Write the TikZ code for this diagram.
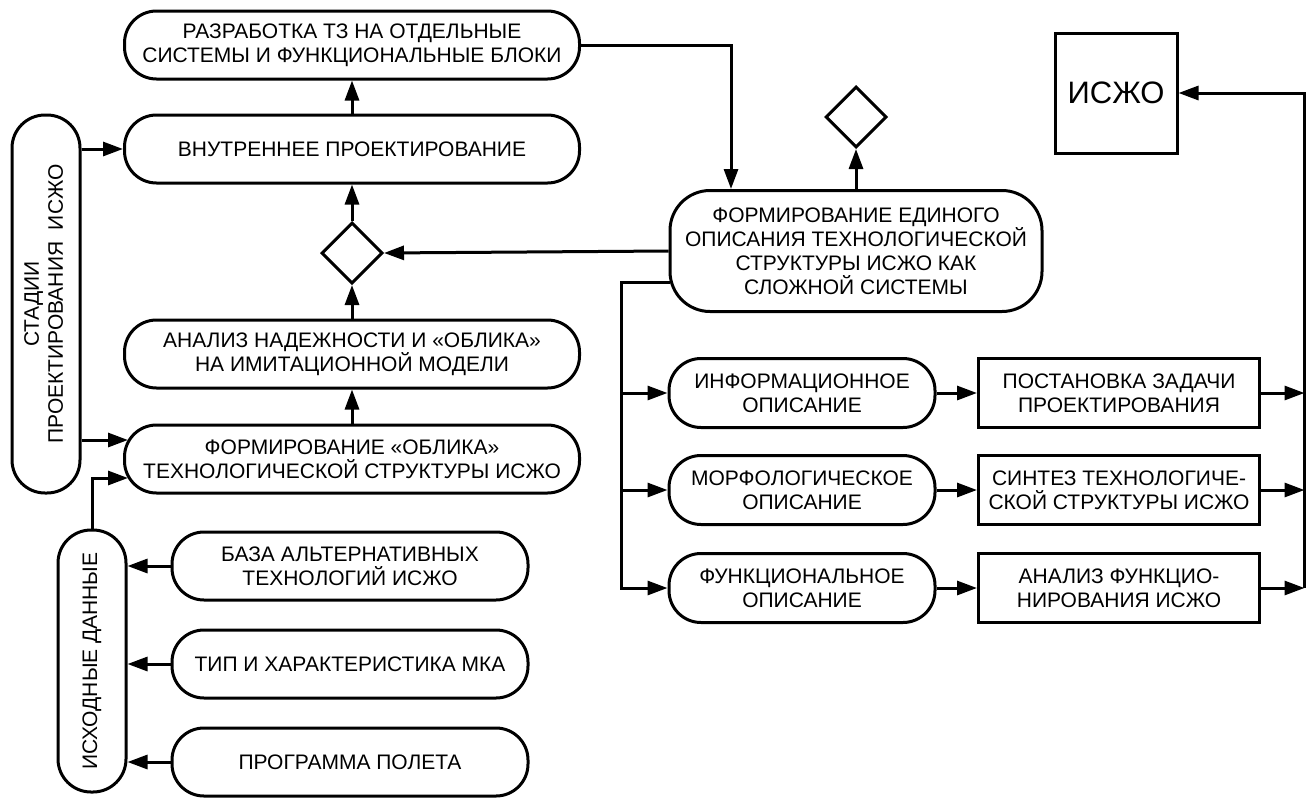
\documentclass[tikz,border=0pt]{standalone}
\usepackage{fontspec}
\setmainfont{Liberation Sans}
\usepackage{graphicx}
\usetikzlibrary{arrows.meta,shapes.geometric,calc}
\newcommand{\fs}{\fontsize{21pt}{24pt}\selectfont}
\tikzset{
  base/.style={draw, line width=3pt, align=center, font=\fs, inner sep=0pt},
  pill/.style={base, rounded corners=32pt, minimum height=68pt},
  vpill/.style={base, rounded corners=33pt, minimum width=68pt},
  rect/.style={base, minimum height=69pt, minimum width=281pt},
  dia/.style={draw, line width=3pt, diamond, aspect=1, inner sep=0pt, minimum width=61pt, minimum height=61pt},
  arr/.style={line width=3pt, -{Triangle[length=20pt,width=14pt]}}
}
\begin{document}
\begin{tikzpicture}[x=1pt,y=-1pt]
\useasboundingbox (0,0) rectangle (1314,798);
% left column
\node[pill, minimum width=455pt] (raz) at (352,45) {РАЗРАБОТКА ТЗ НА ОТДЕЛЬНЫЕ\\СИСТЕМЫ И ФУНКЦИОНАЛЬНЫЕ БЛОКИ};
\node[pill, minimum width=455pt] (vn) at (352,149) {ВНУТРЕННЕЕ ПРОЕКТИРОВАНИЕ};
\node[dia] (dl) at (352,253) {};
\node[pill, minimum width=455pt] (an) at (352,354) {АНАЛИЗ НАДЕЖНОСТИ И «ОБЛИКА»\\НА ИМИТАЦИОННОЙ МОДЕЛИ};
\node[pill, minimum width=455pt] (obl) at (352,459) {ФОРМИРОВАНИЕ «ОБЛИКА»\\ТЕХНОЛОГИЧЕСКОЙ СТРУКТУРЫ ИСЖО};
\node[vpill, minimum height=378pt] (stad) at (46,304) {\rotatebox{90}{\begin{tabular}{@{}c@{}}СТАДИИ\\ПРОЕКТИРОВАНИЯ\ \ ИСЖО\end{tabular}}};
\node[vpill, minimum height=262pt] (isx) at (92,661) {\rotatebox{90}{ИСХОДНЫЕ ДАННЫЕ}};
\node[pill, minimum width=356pt] (baz) at (350,566) {БАЗА АЛЬТЕРНАТИВНЫХ\\ТЕХНОЛОГИЙ ИСЖО};
\node[pill, minimum width=356pt] (tip) at (350,664) {ТИП И ХАРАКТЕРИСТИКА МКА};
\node[pill, minimum width=356pt] (prog) at (350,762) {ПРОГРАММА ПОЛЕТА};
% right part
\node[base, rounded corners=40pt, minimum width=372pt, minimum height=121pt] (ed) at (856,251) {ФОРМИРОВАНИЕ ЕДИНОГО\\ОПИСАНИЯ ТЕХНОЛОГИЧЕСКОЙ\\СТРУКТУРЫ ИСЖО КАК\\СЛОЖНОЙ СИСТЕМЫ};
\node[dia] (dr) at (856,117) {};
\node[base, minimum width=122pt, minimum height=120pt, font=\fontsize{31pt}{34pt}\selectfont] (isj) at (1116,93) {ИСЖО};
\node[pill, minimum width=266pt, minimum height=69pt] (inf) at (802,393) {ИНФОРМАЦИОННОЕ\\ОПИСАНИЕ};
\node[pill, minimum width=266pt, minimum height=69pt] (mor) at (802,490) {МОРФОЛОГИЧЕСКОЕ\\ОПИСАНИЕ};
\node[pill, minimum width=266pt, minimum height=69pt] (fun) at (802,588) {ФУНКЦИОНАЛЬНОЕ\\ОПИСАНИЕ};
\node[rect] (pos) at (1119,393) {ПОСТАНОВКА ЗАДАЧИ\\ПРОЕКТИРОВАНИЯ};
\node[rect] (sin) at (1119,490) {СИНТЕЗ ТЕХНОЛОГИЧЕ-\\СКОЙ СТРУКТУРЫ ИСЖО};
\node[rect] (afu) at (1119,588) {АНАЛИЗ ФУНКЦИО-\\НИРОВАНИЯ ИСЖО};
\coordinate (bus) at ($(fun.west)+(-46,0)$);
\coordinate (rbus) at ($(isj.east)+(126,0)$);
% connectors left
\draw[arr] (vn.north) -- (raz.south);
\draw[arr] (dl.north) -- (vn.south);
\draw[arr] (an.north) -- (dl.south);
\draw[arr] (obl.north) -- (an.south);
\draw[arr] (stad.east |- vn.west) -- (vn.west);
\draw[arr] (stad.east |- obl.west) ++(0,-19) -- ($(obl.west)+(5,-19)$);
\draw[arr] (isx.north) |- ($(obl.west)+(5,19)$);
\draw[arr] (baz.west) -- (isx.east |- baz.west);
\draw[arr] (tip.west) -- (isx.east |- tip.west);
\draw[arr] (prog.west) -- (isx.east |- prog.west);
% connectors right
\draw[arr] (raz.east) -| ($(ed.north)+(-125,0)$);
\draw[arr] (ed.north) -- (dr.south);
\draw[arr] (ed.west) -- (dl.east);
\draw[arr] ($(ed.west)+(1,31)$) -| (bus) -- (fun.west);
\draw[arr] (bus |- inf.west) -- (inf.west);
\draw[arr] (bus |- mor.west) -- (mor.west);
\draw[arr] (inf.east) -- (pos.west);
\draw[arr] (mor.east) -- (sin.west);
\draw[arr] (fun.east) -- (afu.west);
\draw[arr] (pos.east) -- (pos.east -| rbus);
\draw[arr] (sin.east) -- (sin.east -| rbus);
\draw[arr] (afu.east) -- (afu.east -| rbus);
\draw[arr] (afu.east -| rbus) |- (isj.east);
\end{tikzpicture}
\end{document}
